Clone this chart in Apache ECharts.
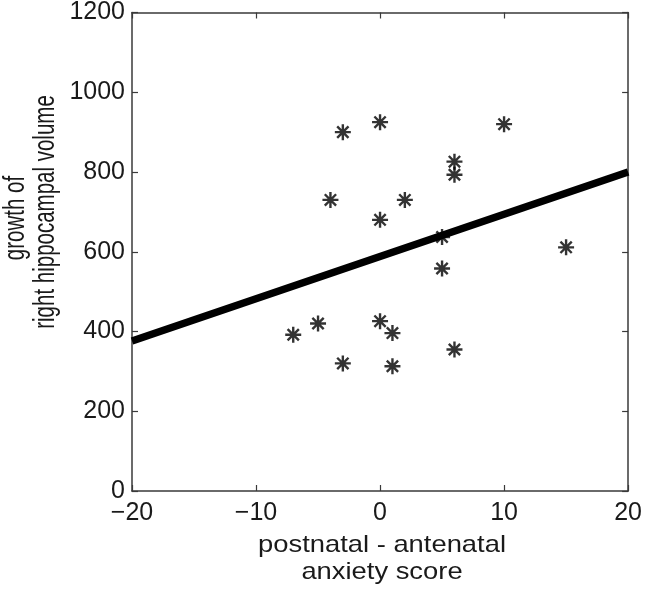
<!DOCTYPE html>
<html>
<head>
<meta charset="utf-8">
<script src="https://cdn.jsdelivr.net/npm/echarts@6/dist/echarts.min.js"></script>
<style>
html,body{margin:0;padding:0;background:#fff;}
#chart{width:645px;height:603px;}
</style>
</head>
<body>
<div id="chart"></div>
<script>
// Data
var xValues = [-7, -5, -3, -3, -4, 0, 0, 0, 1, 1, 2, 5, 5, 6, 6, 6, 10, 15];
var yValues = [392, 420, 320, 900, 730, 925, 680, 426, 396, 313, 730, 637, 558, 826, 793, 355, 920, 611];
var fitX = [-20, 20];
var fitY = [376, 800];
var xTicks = [-20, -10, 0, 10, 20];
var yTicks = [0, 200, 400, 600, 800, 1000, 1200];
var xTitle = ['postnatal - antenatal', 'anxiety score'];
var yTitle = ['growth of', 'right hippocampal volume'];

var points = xValues.map(function (x, i) { return [x, yValues[i]]; });
var fitLine = fitX.map(function (x, i) { return [x, fitY[i]]; });

var asterisk = 'path://M-1.5,-10L1.5,-10L1.5,10L-1.5,10Z' +
  'M-10,-1.5L10,-1.5L10,1.5L-10,1.5Z' +
  'M-6,-8.13L8.13,6L6,8.13L-8.13,-6Z' +
  'M6,-8.13L8.13,-6L-6,8.13L-8.13,6Z';

var FONT = '"Liberation Sans", Arial, Helvetica, sans-serif';
var TXT = '#1a1a1a';
var AX = '#3a3a3a';

function fmt(v) { return String(v).replace('-', '\u2212'); }

var chart = echarts.init(document.getElementById('chart'), null, {renderer: 'canvas'});
var axLine = {show: true, onZero: false, lineStyle: {color: AX, width: 1.5}};
var axTick = {show: true, inside: true, length: 6, lineStyle: {color: AX, width: 1.2}};
chart.setOption({
  backgroundColor: '#fff',
  animation: false,
  grid: {left: 132, right: 16, top: 12, bottom: 112, containLabel: false},
  xAxis: [{
    type: 'value', min: xTicks[0], max: xTicks[xTicks.length - 1], interval: 10,
    axisLine: axLine, axisTick: axTick, splitLine: {show: false},
    axisLabel: {color: TXT, fontSize: 25, fontFamily: FONT, margin: 10, formatter: fmt}
  }, {
    type: 'value', position: 'top', min: xTicks[0], max: xTicks[xTicks.length - 1], interval: 10,
    axisLine: axLine, axisTick: axTick, splitLine: {show: false}, axisLabel: {show: false}
  }],
  yAxis: [{
    type: 'value', min: yTicks[0], max: yTicks[yTicks.length - 1], interval: 200,
    axisLine: axLine, axisTick: axTick, splitLine: {show: false},
    axisLabel: {color: TXT, fontSize: 25, fontFamily: FONT, margin: 7, formatter: fmt}
  }, {
    type: 'value', position: 'right', min: yTicks[0], max: yTicks[yTicks.length - 1], interval: 200,
    axisLine: axLine, axisTick: axTick, splitLine: {show: false}, axisLabel: {show: false}
  }],
  series: [{
    type: 'line', data: fitLine, showSymbol: false, symbol: 'none',
    lineStyle: {color: '#000', width: 7.5}, z: 2, silent: true
  }, {
    type: 'scatter', data: points, symbol: asterisk, symbolSize: 16,
    itemStyle: {color: '#000'}, z: 3
  }],
  graphic: [
    {type: 'text', x: 382, y: 545, scaleX: 1.14, silent: true,
     style: {text: xTitle[0], fill: TXT, font: '24px ' + FONT, textAlign: 'center', textVerticalAlign: 'middle'}},
    {type: 'text', x: 382, y: 572, scaleX: 1.14, silent: true,
     style: {text: xTitle[1], fill: TXT, font: '24px ' + FONT, textAlign: 'center', textVerticalAlign: 'middle'}},
    {type: 'text', x: 16, y: 218, rotation: Math.PI / 2, scaleY: 1.4, silent: true,
     style: {text: yTitle[0], fill: TXT, font: '20.5px ' + FONT, textAlign: 'center', textVerticalAlign: 'middle'}},
    {type: 'text', x: 46, y: 212, rotation: Math.PI / 2, scaleY: 1.4, silent: true,
     style: {text: yTitle[1], fill: TXT, font: '20.5px ' + FONT, textAlign: 'center', textVerticalAlign: 'middle'}}
  ]
});
</script>
</body>
</html>
